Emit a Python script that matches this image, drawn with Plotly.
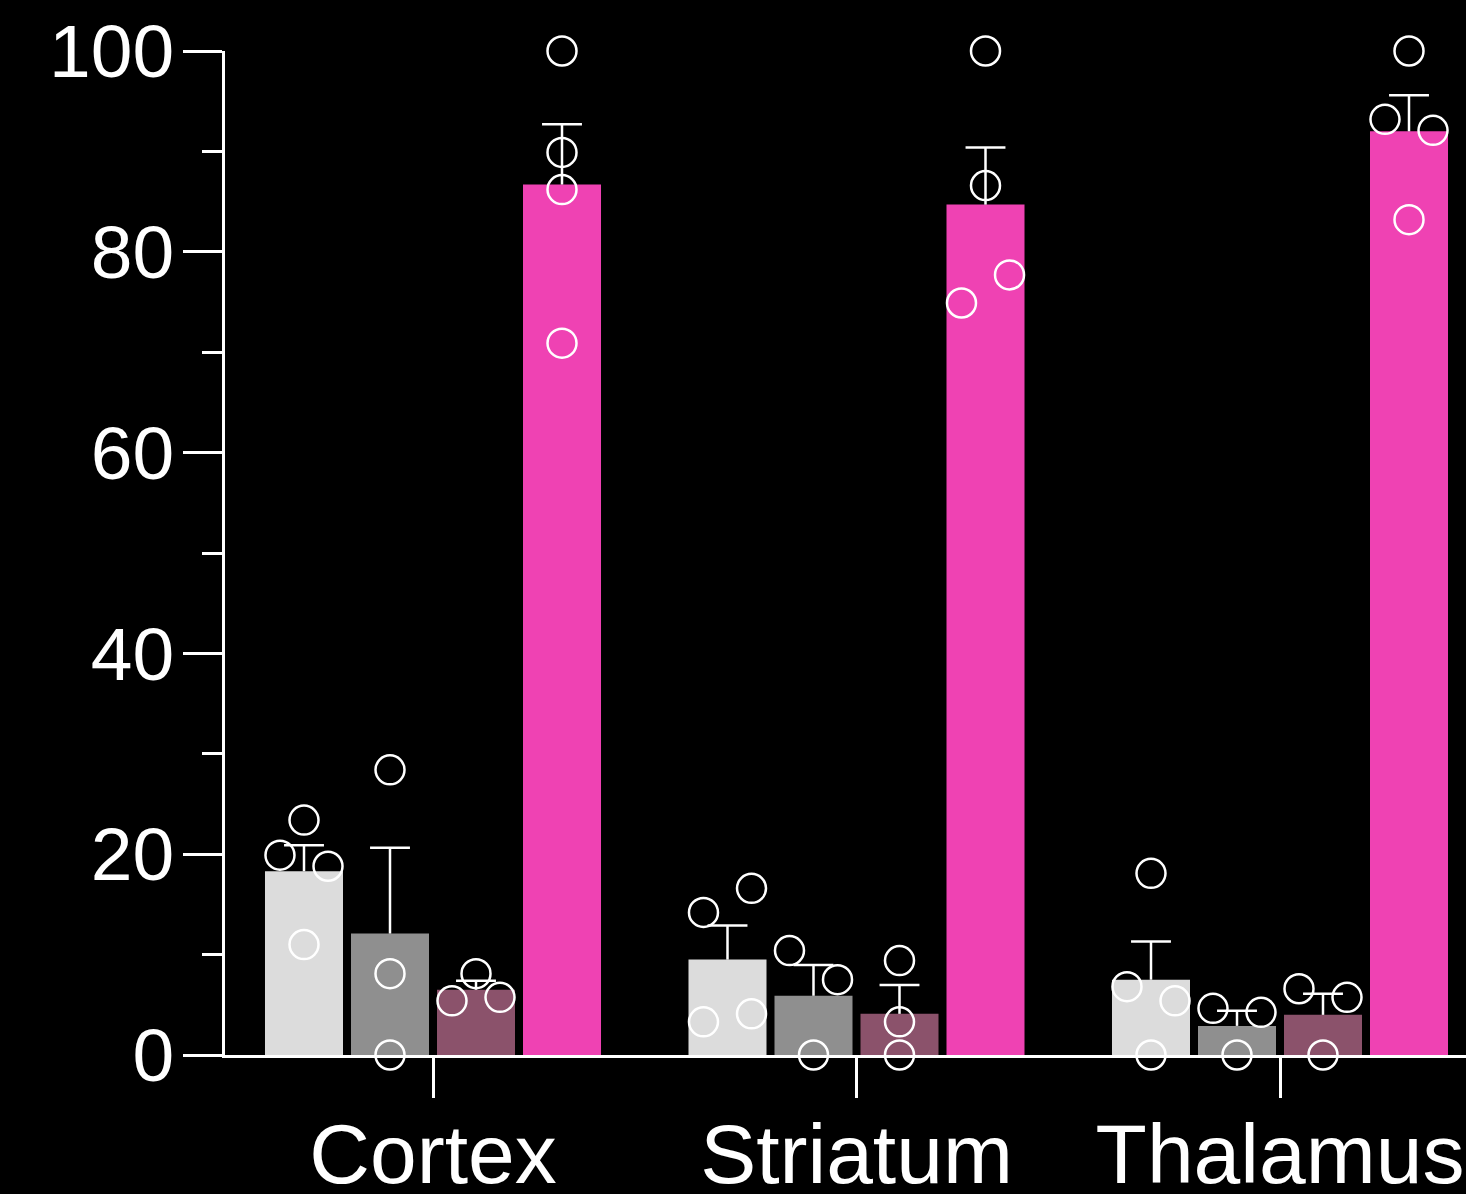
import plotly.graph_objects as go

# ---------------- data ----------------
categories = ["Cortex", "Striatum", "Thalamus"]

g1_mean = [18.3, 9.5, 7.5]
g1_sem = [2.6, 3.4, 3.8]
g1_points = [[19.9, 23.4, 18.8, 11.0], [14.2, 16.6, 3.3, 4.1], [18.1, 6.8, 5.4, 0.0]]

g2_mean = [12.1, 5.9, 2.9]
g2_sem = [8.55, 3.06, 1.5]
g2_points = [[28.4, 8.1, 0.0], [10.4, 7.5, 0.0], [4.65, 4.25, 0.0]]

g3_mean = [6.5, 4.1, 4.0]
g3_sem = [0.9, 2.87, 2.1]
g3_points = [[8.1, 5.4, 5.75], [9.4, 3.3, 0.0], [6.6, 5.75, 0.0]]

g4_mean = [86.7, 84.7, 92.0]
g4_sem = [6.0, 5.7, 3.6]
g4_points = [[100.0, 89.9, 86.2, 70.9], [100.0, 86.6, 74.9, 77.7], [100.0, 93.2, 92.1, 83.2]]

y_tick_vals = [0, 20, 40, 60, 80, 100]
y_minor_vals = [10, 30, 50, 70, 90]

# ---------------- layout of points (beeswarm side: -1 left, 0 centre, 1 right) ----------------
g1_side = [[-1, 0, 1, 0], [-1, 1, -1, 1], [0, -1, 1, 0]]
g2_side = [[0, 0, 0], [-1, 1, 0], [-1, 1, 0]]
g3_side = [[0, -1, 1], [0, 0, 0], [-1, 1, 0]]
g4_side = [[0, 0, 0, 0], [0, 0, -1, 1], [0, -1, 1, 0]]

colors = ["#dcdcdc", "#8f8f8f", "#8b526b", "#ef42b3"]

BARGAP = 0.1877
GROUPGAP = 0.093
N = 4
slot = (1 - BARGAP) / N
jit = 0.0567

series = [
    (g1_mean, g1_sem, g1_points, g1_side),
    (g2_mean, g2_sem, g2_points, g2_side),
    (g3_mean, g3_sem, g3_points, g3_side),
    (g4_mean, g4_sem, g4_points, g4_side),
]

gx = list(range(len(categories)))

fig = go.Figure()

for i, (m, s, pts, sides) in enumerate(series):
    fig.add_trace(go.Bar(
        x=gx, y=m, marker=dict(color=colors[i], line=dict(width=0)),
        showlegend=False, hoverinfo="skip",
    ))

for i, (m, s, pts, sides) in enumerate(series):
    off = (i - (N - 1) / 2) * slot
    xc = [g + off for g in gx]
    tops = [a + b for a, b in zip(m, s)]
    fig.add_trace(go.Scatter(
        x=xc, y=tops, mode="markers",
        marker=dict(symbol="line-ew", size=28.5, color="white",
                    line=dict(color="white", width=2.5)),
        error_y=dict(type="data", symmetric=False, array=[0] * len(s), arrayminus=s,
                     width=0, thickness=2.5, color="white"),
        cliponaxis=False, showlegend=False, hoverinfo="skip",
    ))

for i, (m, s, pts, sides) in enumerate(series):
    off = (i - (N - 1) / 2) * slot
    xs, ys = [], []
    for g, (vals, sd) in enumerate(zip(pts, sides)):
        for v, d in zip(vals, sd):
            xs.append(g + off + d * jit)
            ys.append(v)
    fig.add_trace(go.Scatter(
        x=xs, y=ys, mode="markers",
        marker=dict(symbol="circle-open", size=29, color="white",
                    line=dict(color="white", width=2.5)),
        cliponaxis=False, showlegend=False, hoverinfo="skip",
    ))

px_per_unit = 423.5
x0 = -(433 - 225) / px_per_unit
x1 = x0 + (1466 - 225) / px_per_unit

fig.update_layout(
    width=1466, height=1194,
    margin=dict(l=225, r=0, t=51, b=139, autoexpand=False),
    paper_bgcolor="black", plot_bgcolor="black",
    barmode="group", bargap=BARGAP, bargroupgap=GROUPGAP,
    font=dict(family="Liberation Sans, Arial, sans-serif", color="white"),
    showlegend=False,
)

fig.update_xaxes(
    range=[x0, x1], tickmode="array", tickvals=gx, ticktext=categories,
    showline=True, linecolor="white", linewidth=2.5,
    ticks="outside", ticklen=40, tickwidth=2.5, tickcolor="white",
    tickfont=dict(size=84, color="white"), ticklabelstandoff=-16,
    showgrid=False, zeroline=False, automargin=False,
)

fig.update_yaxes(
    range=[0, 100], tickmode="array", tickvals=y_tick_vals,
    showline=True, linecolor="white", linewidth=2.5,
    ticks="outside", ticklen=39, tickwidth=2.5, tickcolor="white",
    tickfont=dict(size=75, color="white"), ticklabelstandoff=-6,
    minor=dict(tickmode="array", tickvals=y_minor_vals, ticks="outside",
               ticklen=20, tickwidth=2.5, tickcolor="white"),
    showgrid=False, zeroline=False, automargin=False,
)

fig.write_html(
    "out.html",
    config={"displayModeBar": False},
    post_script="document.body.style.margin='0';document.body.style.background='black';",
)
